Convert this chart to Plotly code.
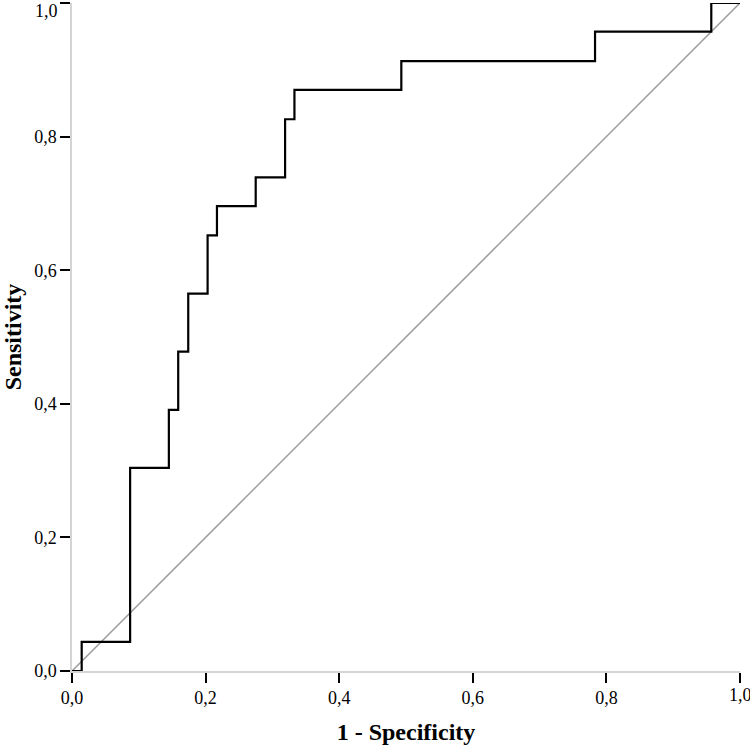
import plotly.graph_objects as go

# ROC curve corner points (1 - specificity, sensitivity)
fpr = [0.0, 0.0145, 0.087, 0.145, 0.159, 0.174, 0.203, 0.217, 0.275, 0.319, 0.333, 0.493, 0.783, 0.957, 1.0]
tpr = [0.0, 0.0435, 0.304, 0.391, 0.478, 0.565, 0.652, 0.696, 0.739, 0.826, 0.870, 0.913, 0.957, 1.0, 1.0]
ref_x = [0.0, 1.0]
ref_y = [0.0, 1.0]
tick_vals = [0.0, 0.2, 0.4, 0.6, 0.8, 1.0]
tick_text = ["0,0", "0,2", "0,4", "0,6", "0,8", "1,0"]
edge_label = "1,0"

fig = go.Figure()
fig.add_trace(go.Scatter(x=ref_x, y=ref_y, mode="lines",
                         line=dict(color="#9a9a9a", width=1.5), showlegend=False, hoverinfo="skip"))
fig.add_trace(go.Scatter(x=fpr, y=tpr, mode="lines", line_shape="hv",
                         line=dict(color="black", width=2.2), showlegend=False))

font_family = "Liberation Serif"
tick_font = dict(family=font_family, size=18, color="black")
axis_common = dict(
    range=[0, 1], tickvals=tick_vals, ticktext=tick_text[:-1] + [""],
    ticks="outside", ticklen=10, tickwidth=2, tickcolor="black",
    showline=True, linecolor="#d4d4d4", linewidth=1.5,
    showgrid=False, zeroline=False,
    tickfont=tick_font,
)
fig.update_xaxes(**axis_common,
                 title=dict(text="<b>1 - Specificity</b>", standoff=16,
                            font=dict(family=font_family, size=24, color="black")))
fig.update_yaxes(**axis_common,
                 title=dict(text="<b>Sensitivity</b>", standoff=6,
                            font=dict(family=font_family, size=24, color="black")))

# end labels that the library would drop because they touch the page edge
fig.add_annotation(x=tick_vals[-1], y=0, xref="x", yref="y", text=edge_label,
                   showarrow=False, xanchor="center", yanchor="top", yshift=-12,
                   font=tick_font)
fig.add_annotation(x=0, y=tick_vals[-1], xref="x", yref="y", text=edge_label,
                   showarrow=False, xanchor="right", yanchor="top", xshift=-12, yshift=4,
                   font=tick_font)

fig.update_layout(
    width=750, height=746,
    margin=dict(l=72, r=10, t=3, b=75),
    plot_bgcolor="white", paper_bgcolor="white",
    separators=",.",
    font=dict(family=font_family),
)
fig.write_html("out.html")
